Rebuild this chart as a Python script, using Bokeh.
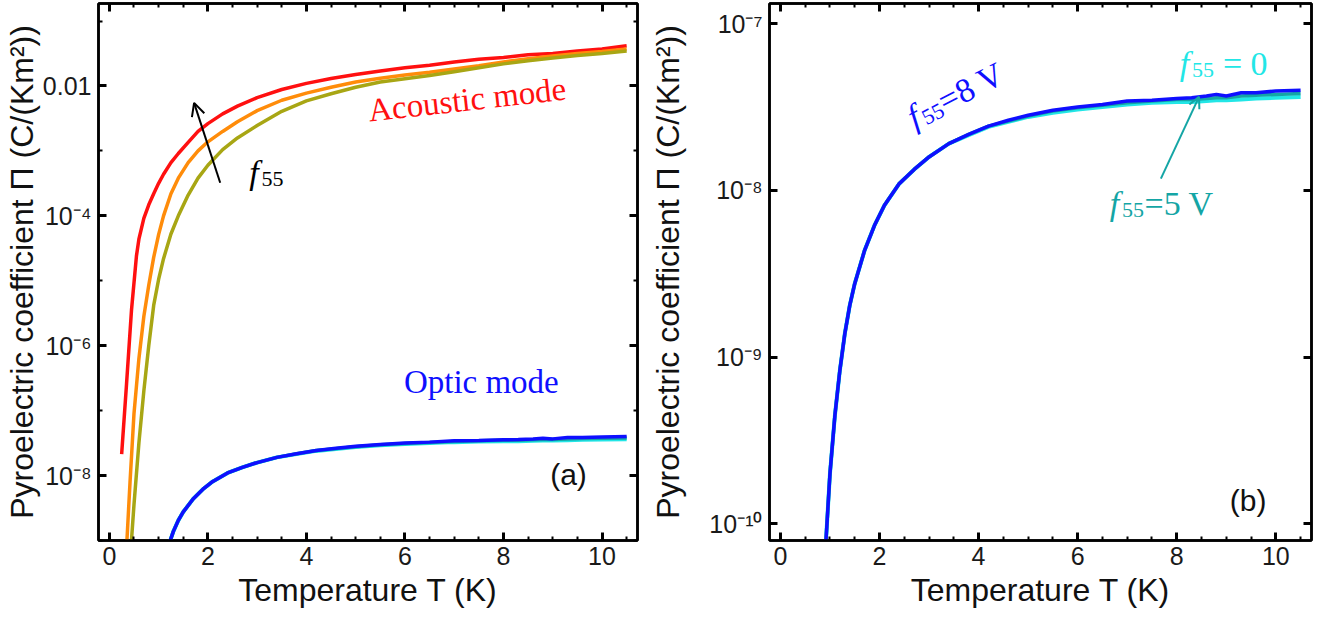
import math
from bokeh.plotting import figure
from bokeh.layouts import row
from bokeh.models import (FixedTicker, LinearAxis, LogAxis, Label, Arrow, OpenHead,
                          CustomJSTickFormatter, Range1d)
from bokeh.embed import file_html
from bokeh.resources import INLINE

# ---------------- data (exponents are log10 of Pi) -------------
red_T = [0.25, 0.35, 0.45, 0.55, 0.6, 0.7, 0.8, 0.9, 1.0, 1.1, 1.25, 1.4, 1.6, 1.8, 2.0, 2.3,
         2.6, 3.0, 3.5, 4.0, 4.5, 5.0, 5.5, 6.0, 6.5, 7.0, 7.5, 8.0, 8.5, 9.0, 9.5, 10.0, 10.5]
red_exp = [-7.67, -6.58, -5.45, -4.62, -4.36, -4.04, -3.83, -3.66, -3.50, -3.36, -3.18, -3.04,
           -2.87, -2.70, -2.58, -2.43, -2.31, -2.18, -2.055, -1.96, -1.885, -1.825, -1.77, -1.72,
           -1.68, -1.63, -1.59, -1.56, -1.52, -1.50, -1.46, -1.43, -1.38]

orange_T = [0.35, 0.42, 0.5, 0.6, 0.7, 0.8, 0.9, 1.0, 1.1, 1.25, 1.4, 1.6, 1.8, 2.0, 2.3, 2.6,
            3.0, 3.5, 4.0, 4.5, 5.0, 5.5, 6.0, 6.5, 7.0, 7.5, 8.0, 8.5, 9.0, 9.5, 10.0, 10.5]
orange_exp = [-9.10, -8.10, -7.05, -6.20, -5.55, -5.07, -4.64, -4.29, -4.00, -3.66, -3.42, -3.18,
              -3.00, -2.86, -2.70, -2.55, -2.38, -2.22, -2.11, -2.02, -1.94, -1.88, -1.83, -1.79,
              -1.74, -1.69, -1.63, -1.58, -1.54, -1.50, -1.47, -1.43]

olive_T = [0.44, 0.5, 0.6, 0.7, 0.8, 0.9, 1.0, 1.1, 1.25, 1.4, 1.6, 1.8, 2.0, 2.3, 2.6, 3.0,
           3.5, 4.0, 4.5, 5.0, 5.5, 6.0, 6.5, 7.0, 7.5, 8.0, 8.5, 9.0, 9.5, 10.0, 10.5]
olive_exp = [-9.10, -8.45, -7.50, -6.70, -6.00, -5.38, -4.98, -4.66, -4.28, -4.00, -3.68, -3.42,
             -3.22, -2.98, -2.80, -2.61, -2.39, -2.23, -2.12, -2.02, -1.94, -1.89, -1.84, -1.78,
             -1.72, -1.66, -1.61, -1.57, -1.53, -1.50, -1.46]

optic_T = [0.9, 1.0, 1.1, 1.2, 1.3, 1.4, 1.5, 1.7, 1.9, 2.1, 2.4, 2.7, 3.0, 3.4, 3.8, 4.2,
           4.6, 5.0, 5.5, 6.0, 6.5, 7.0, 7.5, 8.0, 8.3, 8.6, 8.8, 9.0, 9.3, 9.6, 10.0, 10.5]
blue_exp = [-10.20, -9.70, -9.35, -9.08, -8.86, -8.69, -8.56, -8.36, -8.21, -8.09, -7.96, -7.875,
            -7.80, -7.72, -7.665, -7.615, -7.58, -7.55, -7.52, -7.50, -7.485, -7.465, -7.46, -7.45,
            -7.445, -7.435, -7.425, -7.435, -7.415, -7.415, -7.405, -7.40]
teal_exp = [-10.20, -9.70, -9.35, -9.08, -8.86, -8.69, -8.56, -8.36, -8.21, -8.09, -7.96, -7.875,
            -7.80, -7.72, -7.665, -7.615, -7.585, -7.555, -7.525, -7.505, -7.49, -7.475, -7.465, -7.455,
            -7.455, -7.45, -7.445, -7.445, -7.435, -7.43, -7.425, -7.42]
cyan_exp = [-10.20, -9.70, -9.35, -9.08, -8.86, -8.69, -8.56, -8.36, -8.21, -8.09, -7.96, -7.875,
            -7.80, -7.72, -7.67, -7.62, -7.59, -7.56, -7.535, -7.515, -7.50, -7.485, -7.475, -7.47,
            -7.47, -7.465, -7.46, -7.46, -7.455, -7.45, -7.445, -7.44]

x_ticks = [0, 2, 4, 6, 8, 10]
x_minor = [0.5 * i for i in range(22)]
ya_ticks = [1e-8, 1e-6, 1e-4, 1e-2]
ya_labels = ["10⁻⁸", "10⁻⁶", "10⁻⁴", "0.01"]
ya_minor = [1e-9, 1e-7, 1e-5, 1e-3, 1e-1]
yb_ticks = [1e-10, 1e-9, 1e-8, 1e-7]
yb_labels = ["10⁻¹⁰", "10⁻⁹", "10⁻⁸", "10⁻⁷"]

ylabel = "Pyroelectric coefficient Π (C/(Km²))"
xlabel = "Temperature T (K)"

RED, ORANGE, OLIVE = "#ff1010", "#ff8c0a", "#a8a614"
BLUE, TEAL, CYAN = "#0f0fff", "#14a5a5", "#22e6e6"


def vals(exps):
    return [10.0 ** e for e in exps]


def style(ax, size="25px"):
    ax.axis_line_width = 2.5
    ax.axis_line_color = "black"
    ax.major_tick_in = 8
    ax.major_tick_out = 0
    ax.major_tick_line_width = 3
    ax.minor_tick_in = 4
    ax.minor_tick_out = 0
    ax.minor_tick_line_width = 2
    ax.major_label_text_font = "Liberation Sans"
    ax.major_label_text_font_size = size
    ax.major_label_text_color = "#1a1a1a"
    ax.axis_label_text_font = "Liberation Sans"
    ax.axis_label_text_font_size = "32px"
    ax.axis_label_text_font_style = "normal"
    ax.axis_label_text_color = "#111111"


def make_fig(width, left, right, top, bottom, ylo, yhi, yt, ylab, yminor, ylab_standoff):
    p = figure(width=width, height=628, x_range=Range1d(-0.22, 10.72),
               y_range=Range1d(ylo, yhi), y_axis_type="log",
               output_backend="svg", toolbar_location=None,
               min_border_left=left, min_border_right=right,
               min_border_top=top, min_border_bottom=bottom)
    p.xgrid.visible = False
    p.ygrid.visible = False
    p.outline_line_color = "black"
    p.outline_line_width = 2.5
    p.background_fill_color = "white"
    p.border_fill_color = "white"

    xt = FixedTicker(ticks=x_ticks, minor_ticks=x_minor)
    yticker = FixedTicker(ticks=yt, minor_ticks=yminor)

    p.xaxis.ticker = xt
    p.yaxis.ticker = yticker
    p.yaxis.major_label_overrides = dict(zip(yt, ylab))
    p.xaxis.axis_label = xlabel
    p.yaxis.axis_label = ylabel
    style(p.xaxis[0])
    style(p.yaxis[0])
    p.xaxis.major_label_standoff = 6
    p.xaxis.axis_label_standoff = 4
    p.yaxis.major_label_standoff = 7
    p.yaxis.axis_label_standoff = ylab_standoff

    blank = "return ''"
    top_ax = LinearAxis(ticker=xt, formatter=CustomJSTickFormatter(code=blank))
    right_ax = LogAxis(ticker=yticker, formatter=CustomJSTickFormatter(code=blank))
    for ax in (top_ax, right_ax):
        style(ax, size="0px")
        ax.major_label_standoff = 0
    p.add_layout(top_ax, "above")
    p.add_layout(right_ax, "right")
    return p


def f55(p, x, y, rest, color, angle_deg=0.0, size=34):
    th = math.radians(angle_deg)

    def off(dx, dy):
        return dx * math.cos(th) - dy * math.sin(th), dx * math.sin(th) + dy * math.cos(th)

    sub = round(size * 0.66)
    common = dict(x=x, y=y, text_color=color, angle=th, text_baseline="alphabetic",
                  text_align="left", text_font="Liberation Serif")
    p.add_layout(Label(text="f", text_font_style="italic", text_font_size=f"{size}px", **common))
    ox, oy = off(0.36 * size, -0.2 * size)
    p.add_layout(Label(text="55", text_font_size=f"{sub}px", x_offset=ox, y_offset=oy, **common))
    if rest:
        ox, oy = off(0.36 * size + 1.02 * sub, 0)
        p.add_layout(Label(text=rest, text_font_size=f"{size}px", x_offset=ox, y_offset=oy, **common))


# ---------------- panel (a) ----------------
pa = make_fig(647, 95, 10, 3, 84, 1e-9, 10 ** -0.73, ya_ticks, ya_labels, ya_minor, 0)
lw = 3.5
pa.line(red_T, vals(red_exp), line_color=RED, line_width=lw)
pa.line(orange_T, vals(orange_exp), line_color=ORANGE, line_width=lw)
pa.line(olive_T, vals(olive_exp), line_color=OLIVE, line_width=lw)
pa.line(optic_T, vals(cyan_exp), line_color=CYAN, line_width=lw + 0.5)
pa.line(optic_T, vals(teal_exp), line_color=TEAL, line_width=lw)
pa.line(optic_T, vals(blue_exp), line_color=BLUE, line_width=lw)

pa.add_layout(Label(x=7.26, y=10 ** -2.21, text="Acoustic mode", text_color=RED,
                    text_font="Liberation Serif", text_font_size="33px",
                    text_align="center", text_baseline="middle", angle=math.radians(6.4)))
pa.add_layout(Label(x=7.55, y=10 ** -6.56, text="Optic mode", text_color=BLUE,
                    text_font="Liberation Serif", text_font_size="33px",
                    text_align="center", text_baseline="middle"))
pa.add_layout(Label(x=9.32, y=10 ** -7.99, text="(a)", text_color="#111111",
                    text_font="Liberation Sans", text_font_size="30px",
                    text_align="center", text_baseline="middle"))
f55(pa, 2.84, 10 ** -3.33, "", "black")
pa.add_layout(Arrow(end=OpenHead(size=13, line_width=2, line_color="black"),
                    x_start=2.25, y_start=10 ** -3.49, x_end=1.72, y_end=10 ** -2.26,
                    line_width=2, line_color="black"))

# ---------------- panel (b) ----------------
pb = make_fig(692, 122, 28, 1, 88, 10 ** -10.10, 10 ** -6.88, yb_ticks, yb_labels, [], 20)
pb.line(optic_T, vals(cyan_exp), line_color=CYAN, line_width=lw + 0.5)
pb.line(optic_T, vals(teal_exp), line_color=TEAL, line_width=lw)
pb.line(optic_T, vals(blue_exp), line_color=BLUE, line_width=lw)

f55(pb, 2.60, 10 ** -7.57, "=8 V", BLUE, angle_deg=27)
f55(pb, 8.06, 10 ** -7.24, "\u00a0=\u00a00", CYAN)
f55(pb, 6.65, 10 ** -8.08, "=5 V", TEAL)
pb.add_layout(Arrow(end=OpenHead(size=11, line_width=2, line_color=TEAL),
                    x_start=7.68, y_start=10 ** -7.93, x_end=8.45, y_end=10 ** -7.44,
                    line_width=2, line_color=TEAL))
pb.add_layout(Label(x=9.44, y=10 ** -9.86, text="(b)", text_color="#111111",
                    text_font="Liberation Sans", text_font_size="30px",
                    text_align="center", text_baseline="middle"))

layout = row(pa, pb)
open("out.html", "w").write(file_html(layout, INLINE))
